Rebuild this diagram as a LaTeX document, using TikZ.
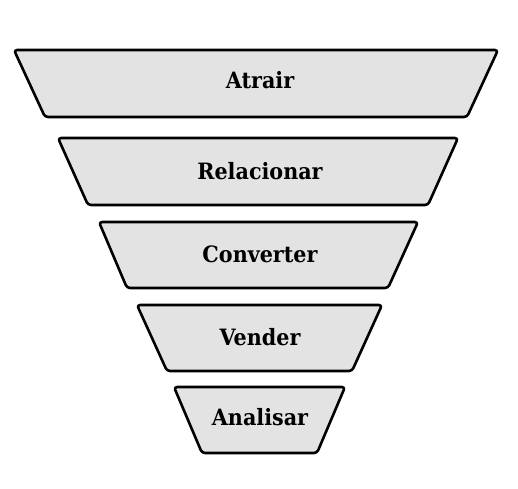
\documentclass[tikz,border=0pt]{standalone}
\usepackage{fontspec}
\setmainfont{DejaVu Serif}[FakeStretch=0.92]
\usepackage{xcolor}
\usepackage{tikz}
\usetikzlibrary{calc}
\definecolor{cinzafunil}{HTML}{E3E3E3}
\tikzset{
    funil/.style={draw=black, fill=cinzafunil, line width=2.6pt, rounded corners=3pt, line join=round},
    rotulo/.style={font=\bfseries\fontsize{22.5}{26}\selectfont, black}
}

\begin{document}
\begin{tikzpicture}[x=1pt, y=-1pt]
        \useasboundingbox (0,0) rectangle (518,488);
        %ATRAIR
        \draw[funil] (14,50) -- (498,50) -- (467,117) -- (45,117) -- cycle;
        \node[rotulo] (atrair) at (260,80) {Atrair};
        %RELACIONAR
        \draw[funil] (58,138) -- (458,138) -- (428,205) -- (88,205) -- cycle;
        \node[rotulo] (relacionar) at (260,171) {Relacionar};
        %CONVERTER
        \draw[funil] (99,222) -- (418,222) -- (388,288) -- (127,288) -- cycle;
        \node[rotulo] (converter) at (260,254) {Converter};
        %VENDER
        \draw[funil] (137,305) -- (382,305) -- (352,371) -- (167,371) -- cycle;
        \node[rotulo] (vender) at (260,337) {Vender};
        %ANALISAR
        \draw[funil] (174,387) -- (345,387) -- (317,453) -- (202,453) -- cycle;
        \node[rotulo] (analisar) at (260,417) {Analisar};
    \end{tikzpicture}
\end{document}
